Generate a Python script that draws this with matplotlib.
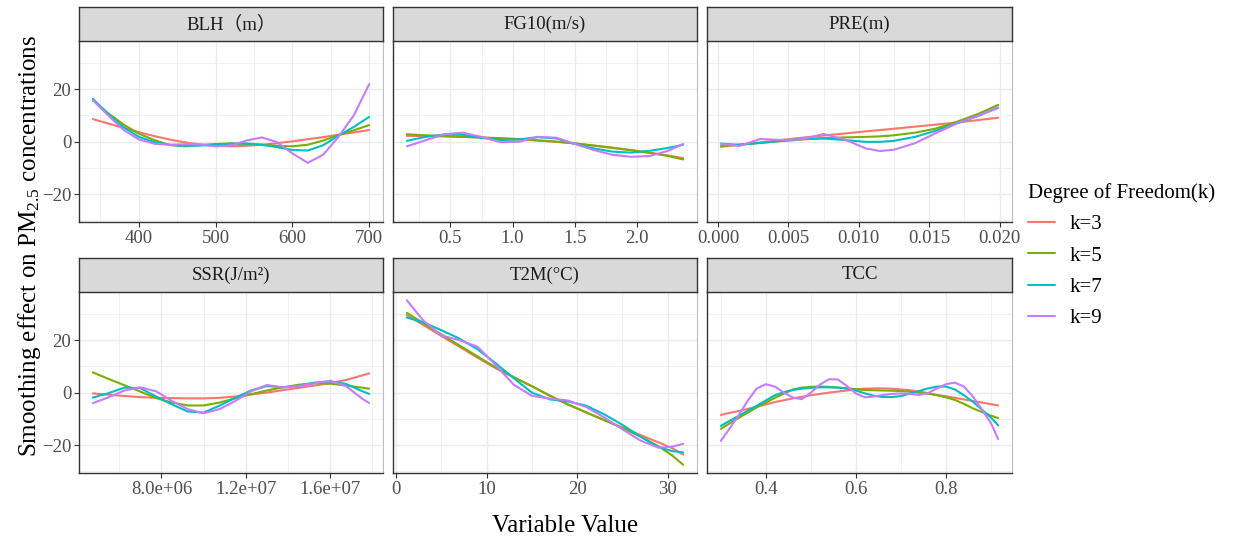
import numpy as np
import matplotlib
matplotlib.use("Agg")
import matplotlib.pyplot as plt

plt.rcParams['font.family'] = ['Liberation Serif', 'Noto Sans CJK SC']
plt.rcParams['mathtext.fontset'] = 'custom'
plt.rcParams['mathtext.rm'] = 'Liberation Serif'
plt.rcParams['mathtext.it'] = 'Liberation Serif:italic'

# ---- data ----
k_labels = ["k=3", "k=5", "k=7", "k=9"]
k_colors = ["#F8766D", "#7CAE00", "#00BFC4", "#C77CFF"]

panel_titles = ["BLH（m）", "FG10(m/s)", "PRE(m)", "SSR(J/m²)", "T2M(°C)", "TCC"]

blh_x = [340, 360, 380, 400, 420, 440, 460, 480, 500, 520, 540, 560, 580, 600, 620, 640, 660, 680, 700]
blh_k3 = [8.6, 6.9, 5.2, 3.6, 2.1, 0.8, -0.3, -1.1, -1.6, -1.8, -1.6, -1.2, -0.6, 0.1, 0.9, 1.7, 2.6, 3.5, 4.4]
blh_k5 = [15.8, 10.8, 6.5, 3.0, 0.6, -1.3, -1.8, -1.3, -0.9, -0.7, -0.9, -1.2, -1.6, -1.8, -1.2, 0.4, 2.5, 4.3, 6.3]
blh_k7 = [16.3, 10.5, 5.5, 1.8, -0.2, -1.2, -1.6, -1.5, -1.2, -0.8, -0.7, -1.2, -2.1, -3.2, -3.4, -1.4, 2.3, 5.6, 9.4]
blh_k9 = [15.8, 10.0, 4.5, 0.8, -0.8, -1.2, -1.0, -1.1, -1.8, -1.5, 0.4, 1.6, -0.2, -4.5, -8.1, -5.0, 1.8, 10.0, 21.9]

fg10_x = [0.15, 0.3, 0.45, 0.6, 0.75, 0.9, 1.05, 1.2, 1.35, 1.5, 1.65, 1.8, 1.95, 2.1, 2.25, 2.37]
fg10_k3 = [2.2, 2.1, 2.0, 1.8, 1.5, 1.2, 0.8, 0.4, -0.1, -0.7, -1.5, -2.3, -3.2, -4.2, -5.3, -6.3]
fg10_k5 = [2.8, 2.4, 2.1, 1.8, 1.6, 1.3, 1.0, 0.5, 0.0, -0.7, -1.5, -2.4, -3.3, -4.3, -5.5, -6.8]
fg10_k7 = [0.3, 1.8, 2.7, 2.6, 1.4, 0.6, 0.8, 1.7, 1.2, -0.8, -2.6, -3.8, -4.2, -3.5, -2.4, -1.2]
fg10_k9 = [-1.8, 0.5, 2.8, 3.4, 1.8, -0.2, -0.1, 1.8, 1.5, -0.9, -3.2, -5.0, -5.8, -5.5, -3.5, -0.9]

pre_x = [0.0002, 0.0015, 0.003, 0.0045, 0.006, 0.0075, 0.009, 0.0105, 0.0115, 0.0125, 0.014, 0.0155, 0.017, 0.0185, 0.0199]
pre_k3 = [-2.0, -1.2, -0.3, 0.6, 1.5, 2.3, 3.1, 3.9, 4.4, 4.9, 5.7, 6.5, 7.3, 8.2, 9.1]
pre_k5 = [-1.7, -1.2, -0.5, 0.2, 0.8, 1.3, 1.6, 1.8, 2.0, 2.4, 3.4, 5.0, 7.6, 10.6, 14.0]
pre_k7 = [-0.8, -1.2, -0.5, 0.3, 1.0, 1.2, 0.6, -0.1, -0.1, 0.3, 1.8, 4.2, 7.0, 9.8, 13.0]
pre_k9 = [-0.8, -1.7, 1.0, 0.6, 0.9, 2.9, 0.8, -2.6, -3.6, -3.1, -0.6, 3.3, 7.0, 10.0, 12.8]

ssr_x = [4.75e6, 5.5e6, 6.25e6, 7.0e6, 7.75e6, 8.5e6, 9.25e6, 10.0e6, 10.75e6, 11.5e6,
         12.25e6, 13.0e6, 13.75e6, 14.5e6, 15.25e6, 16.0e6, 16.75e6, 17.5e6, 17.85e6]
ssr_k3 = [-0.3, -0.8, -1.3, -1.7, -2.0, -2.1, -2.2, -2.2, -2.0, -1.5, -0.7, 0.0, 0.9, 1.8, 2.7, 3.6, 4.8, 6.5, 7.3]
ssr_k5 = [7.7, 5.2, 2.8, 0.4, -2.1, -3.8, -4.9, -4.9, -3.8, -2.2, -0.6, 0.8, 2.0, 3.0, 3.6, 3.4, 2.7, 1.9, 1.5]
ssr_k7 = [-1.9, -0.2, 1.9, 1.7, -1.5, -4.5, -7.2, -7.6, -5.0, -2.0, 0.8, 2.5, 2.0, 2.5, 3.8, 4.3, 3.3, 0.6, -0.5]
ssr_k9 = [-4.0, -1.8, 0.8, 2.0, 0.5, -3.2, -6.3, -7.9, -6.3, -3.2, 0.5, 2.9, 2.0, 2.5, 3.5, 4.5, 2.5, -2.2, -4.0]

t2m_x = [1.2, 3, 5, 7, 9, 11, 13, 15, 17, 19, 21, 23, 25, 27, 29, 30.5, 31.7]
t2m_k3 = [29.5, 25.8, 21.6, 17.5, 13.3, 9.3, 5.8, 2.5, -1.2, -4.6, -7.6, -10.5, -13.3, -16.2, -19.0, -21.2, -23.6]
t2m_k5 = [30.4, 26.5, 22.2, 18.0, 13.8, 9.6, 5.9, 2.4, -1.2, -4.5, -7.5, -10.5, -13.5, -16.8, -20.5, -24.0, -27.5]
t2m_k7 = [28.6, 26.8, 23.8, 20.6, 16.5, 11.2, 5.5, 0.0, -2.6, -3.4, -5.0, -8.3, -12.3, -16.8, -20.8, -22.3, -22.8]
t2m_k9 = [35.2, 27.5, 21.8, 20.0, 17.5, 10.5, 3.0, -1.2, -2.3, -3.0, -5.5, -9.5, -14.0, -18.3, -21.0, -20.6, -19.5]

tcc_x = [0.30, 0.32, 0.34, 0.36, 0.38, 0.40, 0.42, 0.44, 0.46, 0.48, 0.50, 0.52, 0.54, 0.56, 0.58, 0.60,
         0.62, 0.64, 0.66, 0.68, 0.70, 0.72, 0.74, 0.76, 0.78, 0.80, 0.82, 0.84, 0.86, 0.88, 0.90, 0.916]
tcc_k3 = [-8.5, -7.7, -7.0, -6.2, -5.4, -4.5, -3.6, -2.9, -2.2, -1.6, -1.0, -0.5, 0.0, 0.4, 0.8, 1.2,
          1.5, 1.6, 1.6, 1.5, 1.2, 0.9, 0.4, -0.2, -0.9, -1.4, -2.0, -2.6, -3.2, -3.8, -4.4, -4.9]
tcc_k5 = [-13.8, -11.7, -9.6, -7.6, -5.6, -3.8, -2.0, -0.4, 1.2, 1.9, 2.2, 2.3, 2.2, 1.9, 1.6, 1.3,
          1.0, 0.9, 0.8, 0.7, 0.6, 0.3, 0.0, -0.4, -1.0, -1.8, -2.8, -4.3, -6.0, -7.4, -8.8, -9.7]
tcc_k7 = [-12.7, -10.7, -8.8, -6.9, -5.0, -3.0, -1.0, 0.2, 1.0, 1.5, 1.8, 2.0, 2.0, 1.9, 1.6, 0.8,
          -0.3, -1.2, -1.7, -1.7, -1.3, -0.4, 0.6, 1.6, 2.3, 2.3, 1.2, -1.0, -3.5, -6.5, -9.5, -12.5]
tcc_k9 = [-18.4, -13.5, -8.5, -3.0, 1.6, 3.2, 2.3, 0.0, -1.9, -2.5, 0.0, 3.0, 5.1, 5.0, 2.5, -0.3,
          -1.8, -1.5, -0.9, -0.5, -0.3, -0.5, -0.9, -0.2, 1.6, 3.2, 3.8, 2.3, -1.5, -6.5, -11.6, -17.7]

# tick positions / labels per panel
blh_ticks, blh_minor = [400, 500, 600, 700], [350, 450, 550, 650]
fg10_ticks, fg10_minor = [0.5, 1.0, 1.5, 2.0], [0.25, 0.75, 1.25, 1.75, 2.25]
pre_ticks, pre_minor = [0.0, 0.005, 0.010, 0.015, 0.020], [0.0025, 0.0075, 0.0125, 0.0175]
ssr_ticks, ssr_minor = [8.0e6, 1.2e7, 1.6e7], [6.0e6, 1.0e7, 1.4e7, 1.8e7]
t2m_ticks, t2m_minor = [0, 10, 20, 30], [5, 15, 25]
tcc_ticks, tcc_minor = [0.4, 0.6, 0.8], [0.3, 0.5, 0.7, 0.9]

blh_labels = ["400", "500", "600", "700"]
fg10_labels = ["0.5", "1.0", "1.5", "2.0"]
pre_labels = ["0.000", "0.005", "0.010", "0.015", "0.020"]
ssr_labels = ["8.0e+06", "1.2e+07", "1.6e+07"]
t2m_labels = ["0", "10", "20", "30"]
tcc_labels = ["0.4", "0.6", "0.8"]

y_ticks, y_minor = [-20, 0, 20], [-30, -10, 10, 30]

panels = [
    (blh_x, [blh_k3, blh_k5, blh_k7, blh_k9], blh_ticks, blh_minor, blh_labels),
    (fg10_x, [fg10_k3, fg10_k5, fg10_k7, fg10_k9], fg10_ticks, fg10_minor, fg10_labels),
    (pre_x, [pre_k3, pre_k5, pre_k7, pre_k9], pre_ticks, pre_minor, pre_labels),
    (ssr_x, [ssr_k3, ssr_k5, ssr_k7, ssr_k9], ssr_ticks, ssr_minor, ssr_labels),
    (t2m_x, [t2m_k3, t2m_k5, t2m_k7, t2m_k9], t2m_ticks, t2m_minor, t2m_labels),
    (tcc_x, [tcc_k3, tcc_k5, tcc_k7, tcc_k9], tcc_ticks, tcc_minor, tcc_labels),
]

# shared y range, ggplot-style 5% expansion
all_y = np.concatenate([np.ravel(s) for p in panels for s in p[1]])
y_lo, y_hi = all_y.min(), all_y.max()
y_pad = 0.05 * (y_hi - y_lo)

W, H = 1252, 543
fig = plt.figure(figsize=(W / 100, H / 100), dpi=100)

col_x = [(79, 383), (393, 697), (707, 1012)]
row_y = [(41, 222), (292, 473)]
strip_h = 34

handles = []
for i, (xs, series, ticks, minor, labels) in enumerate(panels):
    r, c = divmod(i, 3)
    x0, x1 = col_x[c]
    y0, y1 = row_y[r]
    ax = fig.add_axes([x0 / W, 1 - y1 / H, (x1 - x0) / W, (y1 - y0) / H])
    for ys, col, lab in zip(series, k_colors, k_labels):
        ln, = ax.plot(xs, ys, color=col, lw=1.5, label=lab, solid_capstyle='round',
                      solid_joinstyle='round')
        if i == 0:
            handles.append(ln)
    x_pad = 0.05 * (max(xs) - min(xs))
    ax.set_xlim(min(xs) - x_pad, max(xs) + x_pad)
    ax.set_ylim(y_lo - y_pad, y_hi + y_pad)

    ax.set_xticks(ticks)
    ax.set_xticklabels(labels)
    ax.set_xticks(minor, minor=True)
    ax.set_yticks(y_ticks)
    ax.set_yticks(y_minor, minor=True)
    ax.grid(which='major', color='#EBEBEB', lw=1.0)
    ax.grid(which='minor', color='#EBEBEB', lw=0.5)
    ax.set_axisbelow(True)

    ax.tick_params(which='major', direction='out', length=3.5, width=0.8, color='#333333',
                   labelcolor='#4D4D4D', labelsize=13.5, pad=2)
    ax.tick_params(which='minor', length=0)
    if c != 0:
        ax.tick_params(axis='y', left=False, labelleft=False)
    for side in ['left', 'bottom']:
        ax.spines[side].set_color('#333333')
        ax.spines[side].set_linewidth(1.0)
    for side in ['top', 'right']:
        ax.spines[side].set_color('#BDBDBD')
        ax.spines[side].set_linewidth(0.8)

    # facet strip
    st = fig.add_axes([x0 / W, 1 - y0 / H, (x1 - x0) / W, strip_h / H])
    st.set_facecolor('#D9D9D9')
    st.set_xticks([])
    st.set_yticks([])
    for sp in st.spines.values():
        sp.set_color('#333333')
        sp.set_linewidth(1.0)
    st.text(0.5, 0.5, panel_titles[i], ha='center', va='center', fontsize=13.5,
            color='#1A1A1A', transform=st.transAxes)

fig.text(30 / W, 1 - 246 / H, 'Smoothing effect on PM$_{2.5}$ concentrations',
         rotation=90, ha='center', va='center', fontsize=18)
fig.text(565 / W, 1 - 526 / H, 'Variable Value', ha='center', va='center', fontsize=18)

fig.legend(handles, k_labels, title='Degree of Freedom(k)', loc='upper left',
           bbox_to_anchor=(1020 / W, 1 - 175 / H), frameon=False, fontsize=15,
           title_fontsize=15, handlelength=1.3, handletextpad=0.7, labelspacing=0.56,
           alignment='left', borderaxespad=0)

fig.savefig('out.png', dpi=100)
